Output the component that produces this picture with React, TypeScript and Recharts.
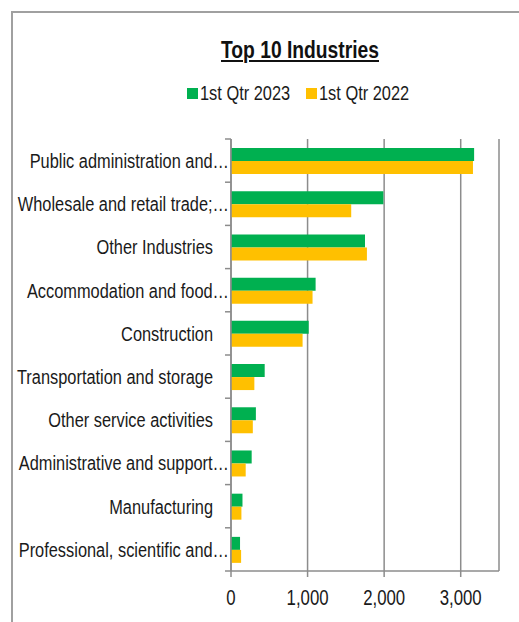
import React from 'react';
import { BarChart, Bar, XAxis, YAxis, CartesianGrid } from 'recharts';

const industries = [
  'Public administration and…',
  'Wholesale and retail trade;…',
  'Other Industries',
  'Accommodation and food…',
  'Construction',
  'Transportation and storage',
  'Other service activities',
  'Administrative and support…',
  'Manufacturing',
  'Professional, scientific and…',
];
const qtr2023 = [3175, 1990, 1750, 1105, 1015, 440, 325, 270, 150, 118];
const qtr2022 = [3160, 1570, 1775, 1065, 935, 305, 285, 192, 136, 132];
const xTicks = [0, 1000, 2000, 3000];

const data = industries.map((name, i) => ({ name, q2023: qtr2023[i], q2022: qtr2022[i] }));

// no Arial Narrow here: squeeze Liberation Sans instead
const FONT = '"Liberation Sans", Arial, sans-serif';
const NARROW = 0.78;
const GREEN = '#00B050';
const YELLOW = '#FFC000';
const GRID = '#8c8c8c';
const INK = '#1a1a1a';

const BAND = 43.2;

function CategoryTick(props: any) {
  const { x, y, payload, index } = props;
  const label: string = payload.value;
  const truncated = label.endsWith('…');
  const tx = truncated ? x - 2 : x - 18;
  return (
    <g>
      {index === 0 && (
        <line x1={x - 6} x2={x} y1={y - BAND / 2} y2={y - BAND / 2} stroke={GRID} strokeWidth={1.5} />
      )}
      <line x1={x - 6} x2={x} y1={y + BAND / 2} y2={y + BAND / 2} stroke={GRID} strokeWidth={1.5} />
      <g transform={`translate(${tx},${y}) scale(${NARROW},1)`}>
        <text x={0} y={0} dy="0.35em" textAnchor="end" fontFamily={FONT} fontSize={21} fill={INK}>
          {label}
        </text>
      </g>
    </g>
  );
}

function ValueTick(props: any) {
  const { x, y, payload } = props;
  return (
    <g transform={`translate(${x},${y}) scale(${NARROW},1)`}>
      <text x={0} y={0} dy="0.75em" textAnchor="middle" fontFamily={FONT} fontSize={21.5} fill={INK}>
        {Number(payload.value).toLocaleString('en-US')}
      </text>
    </g>
  );
}

function LegendItem({ color, label, left }: { color: string; label: string; left: number }) {
  return (
    <div style={{ position: 'absolute', left, top: 0, height: 22, whiteSpace: 'nowrap' }}>
      <span style={{ position: 'absolute', left: 0, top: 6, width: 11, height: 11, background: color }} />
      <span
        style={{
          position: 'absolute',
          left: 13,
          top: 0,
          fontSize: 21,
          lineHeight: '22px',
          color: INK,
          transform: `scaleX(${NARROW})`,
          transformOrigin: 'left center',
        }}
      >
        {label}
      </span>
    </div>
  );
}

export default function App() {
  return (
    <div
      style={{
        position: 'absolute',
        left: 0,
        top: 0,
        width: 519,
        height: 622,
        background: '#fff',
        overflow: 'hidden',
        fontFamily: FONT,
      }}
    >
      <div
        style={{
          position: 'absolute',
          left: 11,
          top: 11,
          width: 600,
          height: 700,
          borderTop: '2px solid #a0a0a0',
          borderLeft: '2px solid #a0a0a0',
        }}
      />
      <div
        style={{
          position: 'absolute',
          left: 160,
          width: 280,
          top: 35,
          textAlign: 'center',
          fontSize: 24.7,
          lineHeight: '29px',
          fontWeight: 'bold',
          textDecoration: 'underline',
          color: '#111',
          transform: `scaleX(${NARROW})`,
          transformOrigin: 'center',
          whiteSpace: 'nowrap',
        }}
      >
        Top 10 Industries
      </div>
      <div style={{ position: 'absolute', left: 0, top: 82, width: 519, height: 22 }}>
        <LegendItem color={GREEN} label="1st Qtr 2023" left={187} />
        <LegendItem color={YELLOW} label="1st Qtr 2022" left={306} />
      </div>
      <div style={{ position: 'absolute', left: 0, top: 0 }}>
        <BarChart
          width={519}
          height={622}
          data={data}
          layout="vertical"
          margin={{ top: 139, right: 20, bottom: 0, left: 0 }}
          barCategoryGap="21%"
          barGap={0}
        >
          <CartesianGrid horizontal={false} vertical={true} stroke={GRID} strokeWidth={1.5} />
          <XAxis
            type="number"
            domain={[0, 3500]}
            ticks={xTicks}
            height={51}
            axisLine={{ stroke: GRID, strokeWidth: 1.5 }}
            tickLine={{ stroke: GRID, strokeWidth: 1.5 }}
            tickSize={6}
            tickMargin={12}
            tick={<ValueTick />}
          />
          <YAxis
            type="category"
            dataKey="name"
            width={231}
            interval={0}
            axisLine={{ stroke: GRID, strokeWidth: 1.5 }}
            tickLine={false}
            tickSize={0}
            tickMargin={0}
            tick={<CategoryTick />}
          />
          <Bar dataKey="q2023" fill={GREEN} isAnimationActive={false} />
          <Bar dataKey="q2022" fill={YELLOW} isAnimationActive={false} />
        </BarChart>
      </div>
    </div>
  );
}
